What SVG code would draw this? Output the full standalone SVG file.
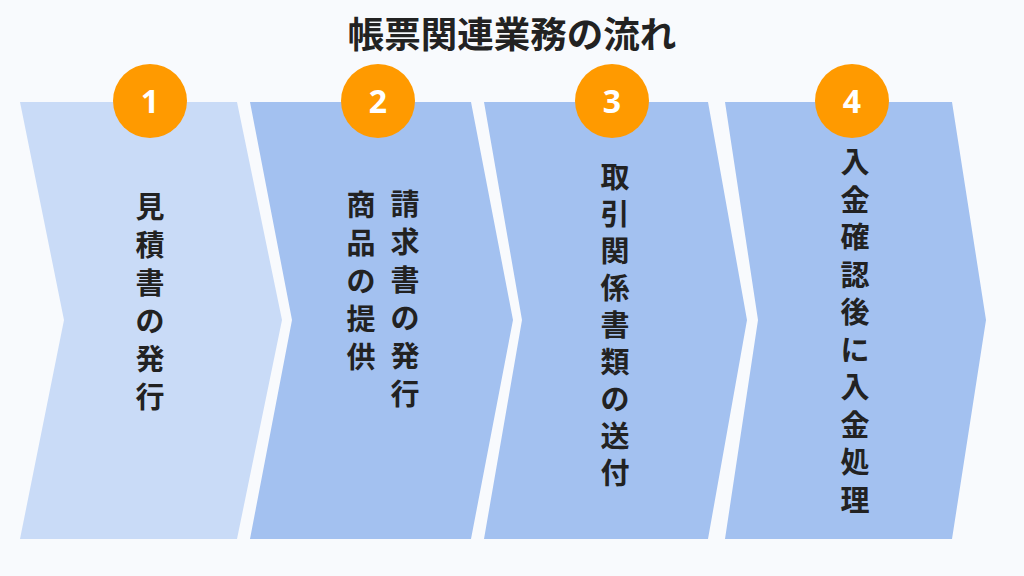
<svg xmlns="http://www.w3.org/2000/svg" width="1024" height="576" viewBox="0 0 1024 576">
<style>
.bg{fill:#F8FAFD}
.light{fill:#C9DBF7}
.mid{fill:#A3C1F0}
.badge{fill:#FF9A00}
.num{font-family:"Noto Sans","Liberation Sans",sans-serif;font-weight:bold;font-size:32px;fill:#FFFFFF;text-anchor:middle}
.lbl{font-family:"Noto Sans CJK JP","Noto Sans CJK SC",sans-serif;font-weight:bold;font-size:29px;fill:#222222;text-anchor:middle}
.title{font-family:"Noto Sans CJK JP","Noto Sans CJK SC",sans-serif;font-weight:bold;font-size:36.5px;fill:#222222;text-anchor:middle}
</style>
<rect class="bg" x="0" y="0" width="1024" height="576"/>
<text class="title" x="512" y="48">帳票関連業務の流れ</text>
<g id="connectors"></g>
<g id="step1">
<polygon class="light" points="20,102 237,102 282,320 237,539 20,539 64,320"/>
<circle class="badge" cx="150" cy="101" r="37"/>
<text class="num" x="150" y="113">1</text>
<text class="lbl"><tspan x="150" y="218">見</tspan><tspan x="150" y="256">積</tspan><tspan x="150" y="294">書</tspan><tspan x="150" y="332">の</tspan><tspan x="150" y="370">発</tspan><tspan x="150" y="408">行</tspan></text>
</g>
<g id="step2">
<polygon class="mid" points="250,102 471,102 513,320 471,539 250,539 292,320"/>
<circle class="badge" cx="378" cy="101" r="37"/>
<text class="num" x="378" y="113">2</text>
<text class="lbl"><tspan x="405" y="215">請</tspan><tspan x="405" y="253">求</tspan><tspan x="405" y="291">書</tspan><tspan x="405" y="329">の</tspan><tspan x="405" y="367">発</tspan><tspan x="405" y="405">行</tspan></text>
<text class="lbl"><tspan x="361" y="216">商</tspan><tspan x="361" y="254">品</tspan><tspan x="361" y="292">の</tspan><tspan x="361" y="330">提</tspan><tspan x="361" y="368">供</tspan></text>
</g>
<g id="step3">
<polygon class="mid" points="484,102 708,102 747,320 708,539 484,539 522,320"/>
<circle class="badge" cx="612" cy="101" r="37"/>
<text class="num" x="612" y="113">3</text>
<text class="lbl"><tspan x="615" y="188">取</tspan><tspan x="615" y="225">引</tspan><tspan x="615" y="262">関</tspan><tspan x="615" y="299">係</tspan><tspan x="615" y="336">書</tspan><tspan x="615" y="373">類</tspan><tspan x="615" y="410">の</tspan><tspan x="615" y="447">送</tspan><tspan x="615" y="484">付</tspan></text>
</g>
<g id="step4">
<polygon class="mid" points="725,102 952,102 986,320 952,539 725,539 758,320"/>
<circle class="badge" cx="852" cy="101" r="37"/>
<text class="num" x="852" y="113">4</text>
<text class="lbl"><tspan x="855" y="173">入</tspan><tspan x="855" y="210.5">金</tspan><tspan x="855" y="248">確</tspan><tspan x="855" y="285.5">認</tspan><tspan x="855" y="323">後</tspan><tspan x="855" y="360.5">に</tspan><tspan x="855" y="398">入</tspan><tspan x="855" y="435.5">金</tspan><tspan x="855" y="473">処</tspan><tspan x="855" y="510.5">理</tspan></text>
</g>
</svg>
